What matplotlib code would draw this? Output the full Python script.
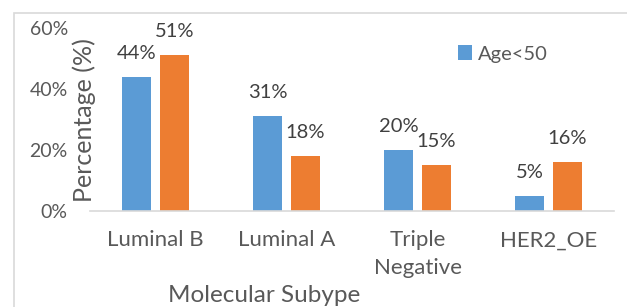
import numpy as np
import matplotlib.pyplot as plt
from matplotlib.patches import Rectangle

categories = ['Luminal B', 'Luminal A', 'Triple\nNegative', 'HER2_OE']
age_lt50 = [44, 31, 20, 5]
age_ge50 = [51, 18, 15, 16]
yticks = [0, 20, 40, 60]

plt.rcParams['font.family'] = ['Lato', 'DejaVu Sans']
text_col = '#595959'
W, H = 627, 307

fig = plt.figure(figsize=(W / 100, H / 100), dpi=100)
ax = fig.add_axes([90 / W, 1 - 211 / H, (614 - 90) / W, (211 - 28) / H])

x = np.arange(len(categories))
off, bw = 0.145, 0.22
b1 = ax.bar(x - off, age_lt50, bw, color='#5B9BD5', label='Age<50')
b2 = ax.bar(x + off, age_ge50, bw, color='#ED7D31', label='Age>=50')

# value labels sit ~24 px above each bar
for xs, vals in [(x - off, age_lt50), (x + off, age_ge50)]:
    for xi, v in zip(xs, vals):
        ax.annotate(f'{v}%', (xi, v), xytext=(0, 17), textcoords='offset points',
                    ha='center', va='center', fontsize=14.5, color='#404040')

ax.set_xlim(-0.5, len(categories) - 0.5)
ax.set_ylim(0, 60)
ax.set_yticks(yticks)
ax.set_yticklabels([f'{t}%' for t in yticks])
ax.set_xticks(x)
ax.set_xticklabels(categories, linespacing=1.45)
ax.tick_params(axis='y', length=0, pad=16, labelsize=14, labelcolor=text_col)
ax.tick_params(axis='x', length=0, pad=14, labelsize=16, labelcolor=text_col)
for s in ['top', 'right', 'left']:
    ax.spines[s].set_visible(False)
ax.spines['bottom'].set_color('#d9d9d9')
ax.spines['bottom'].set_linewidth(1.2)

ax.legend(handles=[b1], loc='center left', bbox_to_anchor=(440 / W, 1 - 54 / H),
          bbox_transform=fig.transFigure, frameon=False, fontsize=14.5,
          handlelength=0.7, handleheight=0.7, handletextpad=0.3, labelcolor=text_col)

fig.text(84 / W, 1 - 120 / H, 'Percentage (%)', rotation=90, ha='center', va='center',
         fontsize=18, color=text_col)
fig.text(264 / W, 1 - 295 / H, 'Molecular Subype', ha='center', va='center',
         fontsize=17.5, color=text_col)

fig.patches.append(Rectangle((14 / W, -0.1), 1.2, 1 - 13 / H + 0.1, transform=fig.transFigure,
                             fill=False, edgecolor='#d9d9d9', linewidth=1.2))

fig.savefig('out.png', dpi=100)
